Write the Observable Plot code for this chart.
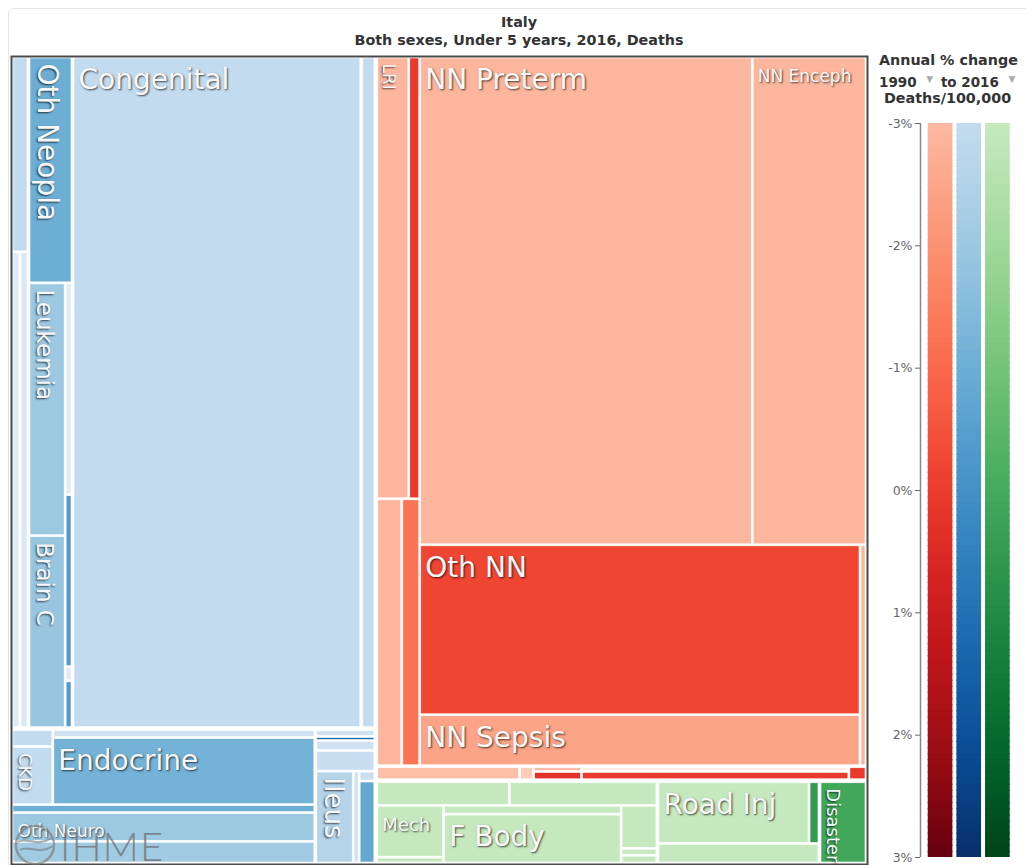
<!DOCTYPE html>
<html>
<head>
<meta charset="utf-8">
<script src="https://cdn.jsdelivr.net/npm/d3@7"></script>
<script src="https://cdn.jsdelivr.net/npm/@observablehq/plot@0.6"></script>
<style>
  html, body { margin: 0; padding: 0; background: #fff; }
  body { width: 1026px; height: 865px; overflow: hidden; position: relative; font-family: "DejaVu Sans", sans-serif; }
  #card { position: absolute; left: 8px; top: 8px; width: 1060px; height: 900px; border: 1px solid #e4e4e4; border-radius: 6px; }
  #title { position: absolute; left: 12px; top: 13px; width: 1014px; text-align: center; font-size: 14.3px; line-height: 18px; font-weight: bold; color: #333; }
  #tree { position: absolute; left: 9px; top: 54px; }
  #legend { position: absolute; left: 870px; top: 110px; }
  .lh { position: absolute; font-weight: bold; font-size: 14.3px; color: #333; white-space: nowrap; }
  .tri { color: #aaa; font-size: 9px; position: relative; top: -5px; margin: 0 3px 0 5px; }
  .tm text { text-shadow: 1px 1px 2px rgba(0,0,0,0.7); }
  #logo { position: absolute; left: 12px; top: 818px; pointer-events: none; opacity: 0.6; }
  #logotext { position: absolute; left: 60px; top: 822px; font-family: Lato, sans-serif; font-weight: 300; font-size: 40px; color: #6f6f6f; opacity: 0.75; letter-spacing: 1px; pointer-events: none; }
</style>
</head>
<body>
<div id="card"></div>
<div id="title">Italy<br>Both sexes, Under 5 years, 2016, Deaths</div>
<div id="tree"></div>
<div class="lh" style="left:879px;top:52px;">Annual % change</div>
<div class="lh" style="left:879px;top:74px;font-size:13.5px;">1990 <span class="tri">&#9660;</span> to 2016 <span class="tri">&#9660;</span></div>
<div class="lh" style="left:884px;top:90px;">Deaths/100,000</div>
<div id="legend"></div>
<svg id="logo" width="50" height="50" viewBox="0 0 50 50">
  <circle cx="23" cy="27" r="19" fill="none" stroke="#777" stroke-width="2.5"/>
  <path d="M6 24 C 14 18, 24 30, 40 20" fill="none" stroke="#777" stroke-width="2"/>
  <path d="M8 32 C 16 26, 26 38, 41 28" fill="none" stroke="#777" stroke-width="2"/>
</svg>
<div id="logotext">IHME</div>
<script>
// ---------------- DATA (deaths, under 5, Italy 2016; annual % change 1990-2016) ----------------
const ncdCauses = ["Cardiomyo","Epilepsy","Oth Cardio","Oth Neopla","Leukemia","Brain C","Hodgkin","Kidney C","Liver C","NHL",
  "Congenital","SIDS","Cirrhosis","CKD","Hemog","Endocrine","Oth NCD","Oth Neuro","Cereb Palsy",
  "Asthma","Urinary","Oth Resp","Oth Digest","Ileus","Skin","Gallbladder","Appendicitis"];
const ncdDeaths = [8.29,10.12,10.12,24.86,23.40,17.76,3.71,3.01,0.25,0.82,
  484.80,23.49,1.74,6.05,5.26,44.71,6.08,22.04,16.72,
  1.05,0.60,1.50,3.15,8.84,1.40,0.40,3.32];
const ncdChange = [-3.0,-4.0,-3.8,-1.0,-2.0,-1.9,-4.0,-0.3,-4.0,-0.3,
  -3.0,-3.0,-3.0,-3.0,-3.4,-1.15,-1.0,-2.0,-2.1,
  -3.4,1.2,-3.4,-3.2,-2.6,-3.4,-3.2,-0.8];

const cmnnCauses = ["LRI","URI","Meningitis","Encephalitis","NN Preterm","NN Enceph","Oth NN","NN Sepsis","NN Hemol",
  "Diarrhea","Pertussis","Oth Infect","HIV","Nutrition","Hep B","Measles"];
const cmnnDeaths = [35.36,12.16,16.69,12.02,406.26,139.08,187.43,56.23,3.32,
  5.01,0.49,0.60,1.08,3.35,6.03,0.60];
const cmnnChange = [-2.9,0.1,-2.9,-1.25,-2.9,-2.9,-0.2,-2.45,-2.9,
  -3.1,-3.5,-2.9,0.3,-6.0,0.1,0.1];

const injCauses = ["Falls","Drowning","Mech","Fire","Poisoning","F Body","Animal","Self Harm","Oth Unint",
  "Road Inj","Violence","Oth Transport","Disaster"];
const injDeaths = [7.98,8.88,8.88,1.01,4.01,22.25,3.96,0.63,0.72,23.94,1.58,8.10,9.75];
const injChange = [-3.0,-3.0,-3.0,-3.0,-3.0,-3.0,-3.0,-3.0,-3.0,-3.0,0.45,-3.0,0.1];

const legendTicks = [-3,-2,-1,0,1,2,3];
const hLabels = ["Congenital","NN Preterm","NN Enceph","Oth NN","NN Sepsis","Endocrine","Oth Neuro","Road Inj","Mech","F Body"];
const vLabels = ["Oth Neopla","Leukemia","Brain C","CKD","Ileus","LRI","Disaster"];

// ---------------- cause nesting (h = side by side, v = stacked) ----------------
const layoutTree =
["h",
  ["v",
    ["h", ["v","Cardiomyo",["h","Epilepsy","Oth Cardio"]],
          ["v","Oth Neopla",["h",["v","Leukemia","Brain C"],["v","Hodgkin","Kidney C","Liver C","NHL"]]],
          "Congenital","SIDS"],
    ["h", ["v", ["h",["v","Cirrhosis","CKD"],["v","Hemog","Endocrine"]], "Oth NCD","Oth Neuro","Cereb Palsy"],
          ["v", ["v","Asthma","Urinary","Oth Resp","Oth Digest"], ["h","Ileus","Skin",["v","Gallbladder","Appendicitis"]]]]
  ],
  ["v",
    ["v",
      ["h", ["v",["h","LRI","URI"],["h","Meningitis","Encephalitis"]],
            ["v",["h","NN Preterm","NN Enceph"],["h",["v","Oth NN","NN Sepsis"],"NN Hemol"]]],
      ["h","Diarrhea","Pertussis",["v","Oth Infect","HIV"],["v","Nutrition","Hep B"],"Measles"]],
    ["h",
      ["v",["h","Falls","Drowning"],["h",["v","Mech","Fire"],["v","Poisoning","F Body"],["v","Animal","Self Harm","Oth Unint"]]],
      ["v",["h","Road Inj","Violence"],"Oth Transport"],
      "Disaster"]
  ]
];

// ---------------- styles ----------------
const schemes = {ncd: d3.interpolateBlues, cmnn: d3.interpolateReds, inj: d3.interpolateGreens};
const colorOf = (g, c) => schemes[g](Math.max(0.05, Math.min(1, 0.25 + 0.75 * (c + 3) / 6)));
const labelFont = {"Congenital":28,"NN Preterm":28,"NN Enceph":17,"Oth NN":28,"NN Sepsis":28,"Endocrine":28,
  "Oth Neuro":17,"Road Inj":28,"Mech":18,"F Body":28,"Oth Neopla":28,"Leukemia":23,"Brain C":23,"CKD":18,
  "Ileus":26,"LRI":17,"Disaster":18};

// ---------------- layout ----------------
const leafInfo = new Map();
[[ncdCauses, ncdDeaths, ncdChange, "ncd"], [cmnnCauses, cmnnDeaths, cmnnChange, "cmnn"], [injCauses, injDeaths, injChange, "inj"]]
  .forEach(([names, vals, ch, g]) => names.forEach((n, i) => leafInfo.set(n, {name: n, deaths: vals[i], change: ch[i], group: g})));

function build(node) {
  if (typeof node === "string") return leafInfo.get(node);
  return {dir: node[0], children: node.slice(1).map(build)};
}
const W = 854, H = 806;
const tile = (node, x0, y0, x1, y1) => (node.data.dir === "h" ? d3.treemapDice : d3.treemapSlice)(node, x0, y0, x1, y1);
const root = d3.hierarchy(build(layoutTree)).sum(d => d.deaths || 0);
d3.treemap().size([W, H]).round(false)
  .paddingInner(n => n.depth <= 1 ? 4 : n.depth === 2 ? 3 : 2)
  .tile(tile)(root);
const cells = root.leaves().map(n => ({...n.data, x0: n.x0, x1: n.x1, y0: n.y0, y1: n.y1, color: colorOf(n.data.group, n.data.change)}));
const byName = new Map(cells.map(c => [c.name, c]));
const hLab = hLabels.map(n => byName.get(n));
const vLab = vLabels.map(n => byName.get(n));

const tree = Plot.plot({
  width: 860, height: 812, margin: 0,
  className: "tm",
  style: {background: "transparent", fontFamily: "DejaVu Sans", overflow: "visible"},
  x: {domain: [0, W], range: [4, 856], axis: null},
  y: {domain: [0, H], range: [4, 808], axis: null},
  color: {type: "identity"},
  marks: [
    Plot.rect(cells, {x1: "x0", x2: "x1", y1: "y0", y2: "y1", fill: "color", stroke: "#fff", strokeWidth: 0.6}),
    Plot.frame({stroke: "#4a4a4a", strokeWidth: 2, inset: 2}),
    Plot.text(hLab, {x: "x0", y: "y0", text: "name", dx: 4, dy: 11, textAnchor: "start", lineAnchor: "top",
      fontSize: d => labelFont[d.name], fill: "#f8f8f8"}),
    Plot.text(vLab, {x: d => d.x0 + 0.28 * labelFont[d.name], y: "y0", text: "name", dy: 5, rotate: 90,
      textAnchor: "start", lineAnchor: "bottom", fontSize: d => labelFont[d.name], fill: "#f8f8f8"})
  ]
});
document.getElementById("tree").append(tree);

// ---------------- legend ----------------
const stops = d3.range(-3, 3, 0.05);
const legendData = ["cmnn", "ncd", "inj"].flatMap((g, i) => stops.map(v => ({g, i, v})));
const legend = Plot.plot({
  width: 156, height: 760, marginLeft: 50, marginRight: 14, marginTop: 13, marginBottom: 13,
  style: {background: "transparent", fontFamily: "DejaVu Sans", fontSize: "12.5px", color: "#666", overflow: "visible"},
  x: {domain: [0, 3], range: [56, 142], axis: null},
  y: {domain: [-3, 3], range: [13, 747], ticks: legendTicks, tickFormat: d => `${d}%`, tickSize: 5, tickPadding: 3, label: null},
  color: {type: "identity"},
  marks: [
    Plot.rect(legendData, {x1: d => d.i + 0.06, x2: d => d.i + 0.92, y1: d => d.v, y2: d => Math.min(3, d.v + 0.06),
      fill: d => colorOf(d.g, d.v + 0.025)}),
    Plot.ruleX([0], {y1: -3, y2: 3, dx: -6, stroke: "#888", strokeWidth: 1.5})
  ]
});
document.getElementById("legend").append(legend);
</script>
</body>
</html>
